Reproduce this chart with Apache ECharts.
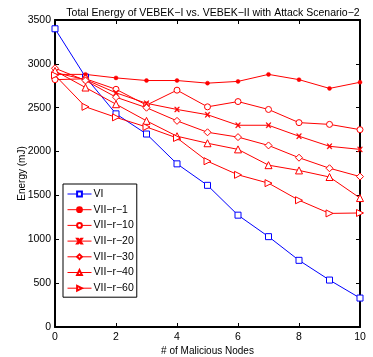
<!DOCTYPE html>
<html><head><meta charset="utf-8">
<script src="https://cdn.jsdelivr.net/npm/echarts@6/dist/echarts.min.js"></script>
<style>html,body{margin:0;padding:0;background:#fff}#c{width:373px;height:357px}</style>
</head><body><div id="c"></div>
<script>
const xCats = [0,1,2,3,4,5,6,7,8,9,10];
const VI    = [3400, 2850, 2430, 2200, 1860, 1615, 1275, 1030, 760, 535, 330];
const R1    = [2880, 2880, 2840, 2810, 2810, 2780, 2800, 2880, 2820, 2720, 2790];
const R10   = [2820, 2830, 2710, 2530, 2700, 2510, 2570, 2480, 2330, 2310, 2250];
const R20   = [2900, 2820, 2670, 2550, 2480, 2420, 2300, 2300, 2175, 2060, 2025];
const R30   = [2950, 2810, 2620, 2500, 2350, 2220, 2165, 2070, 1930, 1810, 1715];
const R40   = [2920, 2730, 2540, 2350, 2175, 2095, 2025, 1845, 1785, 1710, 1470];
const R60   = [2870, 2510, 2390, 2280, 2155, 1890, 1735, 1640, 1445, 1295, 1300];
const names = ['VI','VII\u2212r\u22121','VII\u2212r\u221210','VII\u2212r\u221220','VII\u2212r\u221230','VII\u2212r\u221240','VII\u2212r\u221260'];

const FONT = 'Liberation Sans, Arial, sans-serif';
const xMark = 'path://M0,0L2,0L5,3.5L8,0L10,0L6.5,5L10,10L8,10L5,6.5L2,10L0,10L3.5,5Z';
const rTri = 'path://M0,0L10,5L0,10Z';
function pts(arr){ return arr.map((v,i)=>[xCats[i], v]); }
function s(name, data, color, symbol, size, empty){
  return {
    name, type:'line', data:pts(data), symbol, symbolSize:size,
    lineStyle:{color, width:1},
    itemStyle: empty ? {color:'#fff', borderColor:color, borderWidth:1} : {color, borderColor:color, borderWidth:0.5},
    emphasis:{disabled:true}, animation:false
  };
}
const chart = echarts.init(document.getElementById('c'), null, {renderer:'canvas'});
const axisCommon = {
  axisLine:{show:true, onZero:false, lineStyle:{color:'#000', width:2}},
  axisTick:{show:true, inside:true, length:4, lineStyle:{color:'#000', width:1}},
  splitLine:{show:false}
};
chart.setOption({
  backgroundColor:'#fff',
  animation:false,
  title:{text:'Total Energy of VEBEK\u2212I vs. VEBEK\u2212II with Attack Scenario\u22122', left:208, textAlign:'center', top:3,
    textStyle:{fontFamily:FONT, fontSize:10.5, fontWeight:'normal', color:'#000'}},
  grid:{left:55, right:13, top:20, bottom:30, containLabel:false, outerBoundsMode:'none'},
  legend:{
    orient:'vertical', left:63, top:184, itemWidth:24, itemHeight:6, itemGap:3.7,
    padding:[4,3,3,4], borderColor:'#000', borderWidth:1, backgroundColor:'#fff',
    lineStyle:{width:1},
    textStyle:{fontFamily:FONT, fontSize:10.5, lineHeight:12, color:'#000', padding:[0,0,0,-3]},
    data:names
  },
  xAxis:[
    Object.assign({type:'value', min:0, max:10, interval:2, position:'bottom',
      name:'# of Malicious Nodes', nameLocation:'middle', nameGap:19, nameMoveOverlap:false,
      nameTextStyle:{fontFamily:FONT, fontSize:10, color:'#000'},
      axisLabel:{fontFamily:FONT, fontSize:10.5, color:'#000', margin:5}}, axisCommon),
    Object.assign({type:'value', min:0, max:10, interval:2, position:'top', axisLabel:{show:false}}, axisCommon)
  ],
  yAxis:[
    Object.assign({type:'value', min:0, max:3500, interval:500, position:'left',
      name:'Energy (mJ)', nameLocation:'middle', nameGap:28, nameMoveOverlap:false,
      nameTextStyle:{fontFamily:FONT, fontSize:10, color:'#000'},
      axisLabel:{fontFamily:FONT, fontSize:10.5, color:'#000', margin:4, formatter:v=>String(v)}}, axisCommon),
    Object.assign({type:'value', min:0, max:3500, interval:500, position:'right', axisLabel:{show:false}}, axisCommon)
  ],
  series:[
    s(names[0], VI, '#0000ff', 'rect', 6, true),
    s(names[1], R1, '#ff0000', 'circle', 4, false),
    s(names[2], R10, '#ff0000', 'circle', 6, true),
    s(names[3], R20, '#ff0000', xMark, 5, false),
    s(names[4], R30, '#ff0000', 'diamond', 7, true),
    s(names[5], R40, '#ff0000', 'triangle', 7, true),
    s(names[6], R60, '#ff0000', rTri, 7, true)
  ]
});
</script></body></html>
